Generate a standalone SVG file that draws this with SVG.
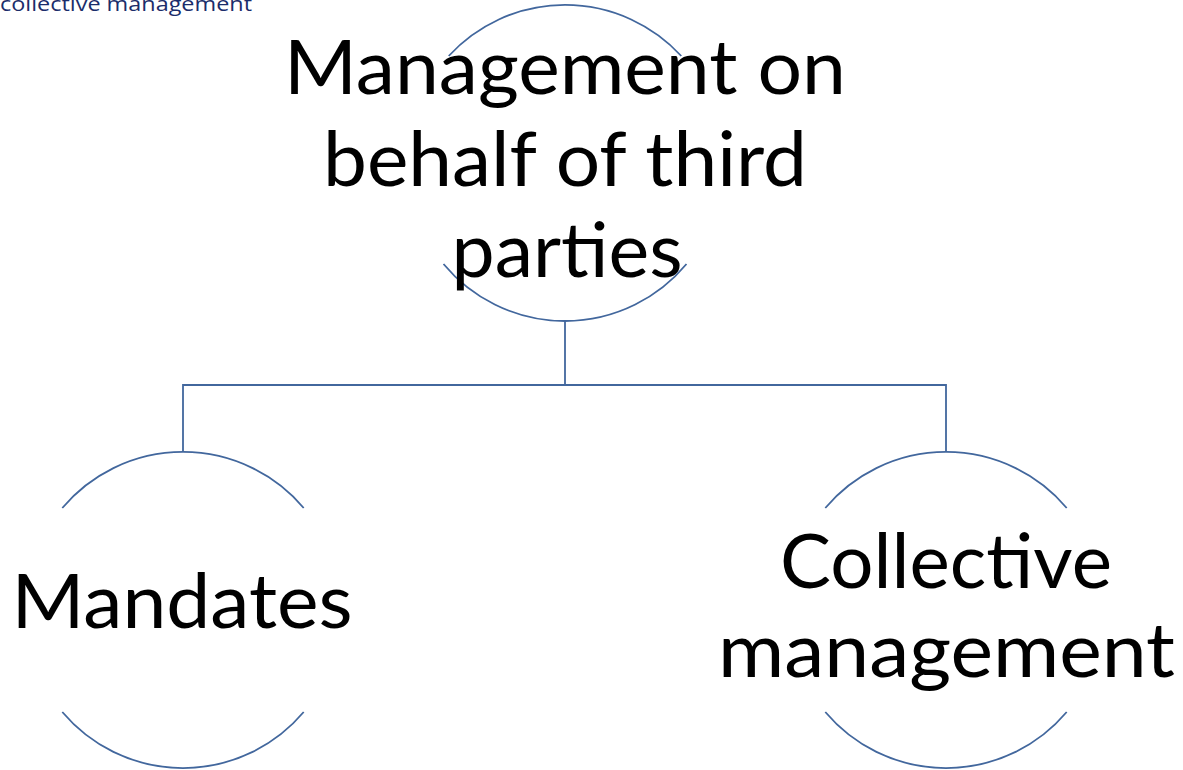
<svg xmlns="http://www.w3.org/2000/svg" width="1183" height="770" viewBox="0 0 1183 770">
  <style>
    .ring { fill: none; stroke: #42679d; stroke-width: 1.8; }
    .link { fill: none; stroke: #42679d; stroke-width: 1.8; }
    .label { font-family: Lato, "Open Sans", "Liberation Sans", sans-serif; font-size: 75px; fill: #000; text-anchor: middle; }
    .caption { font-family: "Open Sans", Lato, sans-serif; font-size: 19.5px; font-weight: 500; fill: #1b2d6b; }
  </style>
  <rect width="1183" height="770" fill="#ffffff"/>

  <!-- header caption along the top edge -->
  <text class="caption" x="0" y="11" textLength="252" lengthAdjust="spacingAndGlyphs">collective management</text>

  <!-- connectors -->
  <g id="connectors">
    <path class="link" d="M565,321 V385"/>
    <path class="link" d="M183,452 V385 H946 V452"/>
  </g>

  <!-- root node -->
  <g id="node-root">
    <path class="ring" d="M448.7,56 A158,158 0 0 1 681.3,56"/>
    <path class="ring" d="M443.5,264 A158,158 0 0 0 686.5,264"/>
    <text class="label" x="565" y="94" textLength="562" lengthAdjust="spacingAndGlyphs">Management on</text>
    <text class="label" x="565" y="186" textLength="484" lengthAdjust="spacingAndGlyphs">behalf of third</text>
    <text class="label" x="567" y="277" textLength="231" lengthAdjust="spacingAndGlyphs">parties</text>
  </g>

  <!-- left child -->
  <g id="node-mandates">
    <path class="ring" d="M62.3,508 A158,158 0 0 1 303.7,508"/>
    <path class="ring" d="M62.3,712 A158,158 0 0 0 303.7,712"/>
    <text class="label" x="182" y="628" textLength="341" lengthAdjust="spacingAndGlyphs">Mandates</text>
  </g>

  <!-- right child -->
  <g id="node-collective">
    <path class="ring" d="M825.3,508 A158,158 0 0 1 1066.7,508"/>
    <path class="ring" d="M825.3,712 A158,158 0 0 0 1066.7,712"/>
    <text class="label" x="946" y="588" textLength="332" lengthAdjust="spacingAndGlyphs">Collective</text>
    <text class="label" x="946.5" y="677" textLength="457" lengthAdjust="spacingAndGlyphs">management</text>
  </g>
</svg>
